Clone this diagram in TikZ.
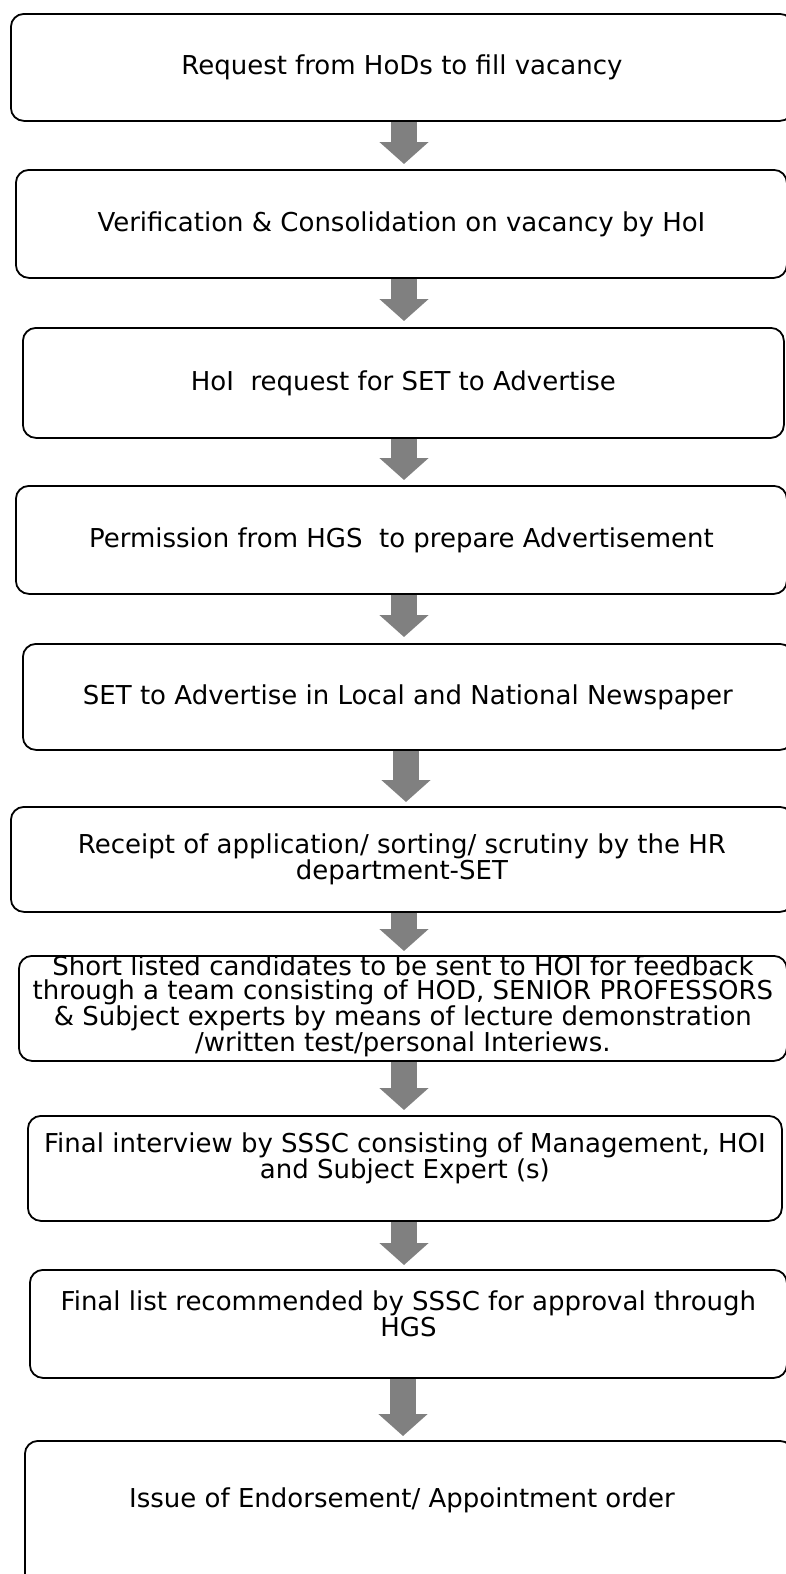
\documentclass[tikz,border=0pt]{standalone}
\usepackage{fontspec}
\setmainfont{DejaVu Sans}
\usepackage{tikz}
\usetikzlibrary{calc, positioning, arrows.meta}

\definecolor{arrowgray}{RGB}{128,128,128}

\begin{document}
\begin{tikzpicture}[x=1pt, y=-1pt,
    box/.style={draw=black, line width=1.8pt, rounded corners=13pt, anchor=north west,
        align=center, inner sep=0pt, font=\fontsize{26}{24}\selectfont},
    boxtext/.style={align=center, inner sep=0pt, font=\fontsize{26}{24}\selectfont},
    blockarrow/.style={line width=26pt, arrowgray,
        -{Triangle[width=48pt, length=22pt]}}]
        \useasboundingbox (0,0) rectangle (786,1574);
        \fill[white] (0,0) rectangle (786,1574);

        \node[box, minimum width=782pt, minimum height=107pt](1) at (10,13) {Request from HoDs to fill vacancy};
        \node[box, minimum width=771pt, minimum height=108pt](2) at (15,169) {Verification \& Consolidation on vacancy by HoI};
        \node[box, minimum width=761pt, minimum height=110pt](3) at (22,327) {HoI\ \ request for SET to Advertise};
        \node[box, minimum width=771pt, minimum height=108pt](4) at (15,485) {Permission from HGS\ \ to prepare Advertisement};
        \node[box, minimum width=770pt, minimum height=106pt](5) at (22,643) {SET to Advertise in Local and National Newspaper};
        \node[box, minimum width=782pt, minimum height=105pt](6) at (10,806) {Receipt of application/ sorting/ scrutiny by the HR\\department-SET};
        \node[box, minimum width=768pt, minimum height=105pt](7) at (18,955) {};
        \node[box, minimum width=754pt, minimum height=105pt](8) at (27,1115) {};
        \node[box, minimum width=757pt, minimum height=108pt](9) at (29,1269) {};
        \node[box, minimum width=768pt, minimum height=170pt](10) at (24,1440) {};

        \node[boxtext](7t) at ($(7.center)+(0,-2)$) {Short listed candidates to be sent to HOI for feedback\\through a team consisting of HOD, SENIOR PROFESSORS\\\& Subject experts by means of lecture demonstration\\/written test/personal Interiews.};
        \node[boxtext](8t) at ($(8.center)+(0,-10)$) {Final interview by SSSC consisting of Management, HOI\\and Subject Expert (s)};
        \node[boxtext](9t) at ($(9.center)+(0,-10)$) {Final list recommended by SSSC for approval through\\HGS};
        \node[boxtext](10t) at (402,1500) {Issue of Endorsement/ Appointment order};

        \draw[blockarrow] (1.south -| 404,0) -- ($(2.north -| 404,0)+(0,-5)$);
        \draw[blockarrow] (2.south -| 404,0) -- ($(3.north -| 404,0)+(0,-6)$);
        \draw[blockarrow] (3.south -| 404,0) -- ($(4.north -| 404,0)+(0,-5)$);
        \draw[blockarrow] (4.south -| 404,0) -- ($(5.north -| 404,0)+(0,-6)$);
        \draw[blockarrow] (5.south -| 406,0) -- ($(6.north -| 406,0)+(0,-4)$);
        \draw[blockarrow] (6.south -| 404,0) -- ($(7.north -| 404,0)+(0,-4)$);
        \draw[blockarrow] (7.south -| 404,0) -- ($(8.north -| 404,0)+(0,-5)$);
        \draw[blockarrow] (8.south -| 404,0) -- ($(9.north -| 404,0)+(0,-4)$);
        \draw[blockarrow] (9.south -| 403,0) -- ($(10.north -| 403,0)+(0,-4)$);
    \end{tikzpicture}
\end{document}
